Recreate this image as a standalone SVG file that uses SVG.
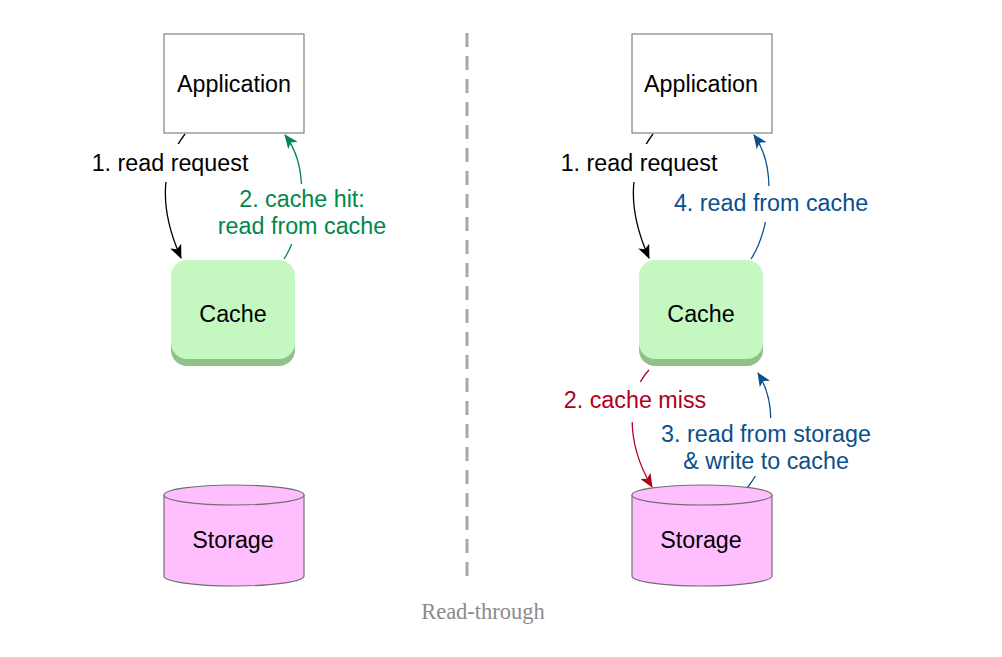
<svg xmlns="http://www.w3.org/2000/svg" width="1002" height="657" viewBox="0 0 1002 657">
<defs>
<style>
text{font-family:"Liberation Sans",Arial,sans-serif;font-size:23.3px;text-anchor:middle}
.box{fill:#fff;stroke:#808080;stroke-width:1.2}
.cache{fill:#c4f8c0}
.cshadow{fill:#8fc188}
.stor{fill:#ffbfff;stroke:#707070;stroke-width:1.2}
.conn{fill:none;stroke-width:1.3}
.lbg{fill:#fff}
.k{stroke:#000}.g{stroke:#00874b}.b{stroke:#0b4f8c}.r{stroke:#b0001f}
.tk{fill:#000}.tg{fill:#00874b}.tb{fill:#0b4f8c}.tr{fill:#b0001f}
.cap{font-family:"Liberation Serif","Times New Roman",serif;font-size:22.5px;fill:#8a8a8a}
</style>
<marker id="ak" viewBox="0 0 14 12" refX="13" refY="6" markerWidth="14" markerHeight="12" markerUnits="userSpaceOnUse" orient="auto"><path d="M0,0L14,6L0,12L3.5,6z" fill="#000"/></marker>
<marker id="ag" viewBox="0 0 14 12" refX="13" refY="6" markerWidth="14" markerHeight="12" markerUnits="userSpaceOnUse" orient="auto"><path d="M0,0L14,6L0,12L3.5,6z" fill="#00874b"/></marker>
<marker id="ab" viewBox="0 0 14 12" refX="13" refY="6" markerWidth="14" markerHeight="12" markerUnits="userSpaceOnUse" orient="auto"><path d="M0,0L14,6L0,12L3.5,6z" fill="#0b4f8c"/></marker>
<marker id="ar" viewBox="0 0 14 12" refX="13" refY="6" markerWidth="14" markerHeight="12" markerUnits="userSpaceOnUse" orient="auto"><path d="M0,0L14,6L0,12L3.5,6z" fill="#b0001f"/></marker>
</defs>
<rect width="1002" height="657" fill="#fff"/>
<line x1="467" y1="33" x2="467" y2="582" stroke="#a8a8a8" stroke-width="3" stroke-dasharray="14 9"/>

<g id="connectors">
<path class="conn k" d="M185,134 C165,160 155,200 181,258" marker-end="url(#ak)"/>
<path class="conn g" d="M284,259 C302,232 312,170 285,135" marker-end="url(#ag)"/>
<path class="conn k" d="M653,134 C633,160 623,200 649,258" marker-end="url(#ak)"/>
<path class="conn b" d="M751,259 C769,232 779,170 754,135" marker-end="url(#ab)"/>
<path class="conn r" d="M649,370 C628,392 624,440 652,487" marker-end="url(#ar)"/>
<path class="conn b" d="M747,488 C770,460 781,410 758,373" marker-end="url(#ab)"/>
</g>

<g id="labels">
<rect class="lbg" x="88" y="144" width="164" height="38"/>
<text class="tk" x="170" y="171">1. read request</text>
<rect class="lbg" x="214" y="184" width="176" height="60"/>
<text class="tg" x="302" y="207">2. cache hit:</text>
<text class="tg" x="302" y="234">read from cache</text>
<rect class="lbg" x="557" y="144" width="164" height="38"/>
<text class="tk" x="639" y="171">1. read request</text>
<rect class="lbg" x="668" y="186" width="206" height="36"/>
<text class="tb" x="771" y="211">4. read from cache</text>
<rect class="lbg" x="558" y="382" width="154" height="40"/>
<text class="tr" x="635" y="408">2. cache miss</text>
<rect class="lbg" x="656" y="418" width="220" height="58"/>
<text class="tb" x="766" y="442">3. read from storage</text>
<text class="tb" x="766" y="469">&amp; write to cache</text>
</g>

<g id="app-left">
<rect class="box" x="164" y="34" width="140" height="99"/>
<text x="234" y="92">Application</text>
</g>
<g id="cache-left">
<rect class="cshadow" x="171" y="268" width="124" height="98" rx="16"/>
<rect class="cache" x="171" y="260" width="124" height="99" rx="16"/>
<text x="233" y="322">Cache</text>
</g>
<g id="storage-left">
<path class="stor" d="M164,495 L164,576 A70,10 0 0 0 304,576 L304,495"/>
<ellipse class="stor" cx="234" cy="495" rx="70" ry="10"/>
<text x="233" y="548">Storage</text>
</g>

<g id="app-right">
<rect class="box" x="632" y="34" width="140" height="99"/>
<text x="701" y="92">Application</text>
</g>
<g id="cache-right">
<rect class="cshadow" x="639" y="268" width="124" height="98" rx="16"/>
<rect class="cache" x="639" y="260" width="124" height="99" rx="16"/>
<text x="701" y="322">Cache</text>
</g>
<g id="storage-right">
<path class="stor" d="M632,495 L632,576 A70,10 0 0 0 772,576 L772,495"/>
<ellipse class="stor" cx="702" cy="495" rx="70" ry="10"/>
<text x="701" y="548">Storage</text>
</g>

<text class="cap" x="483" y="619">Read-through</text>
</svg>
